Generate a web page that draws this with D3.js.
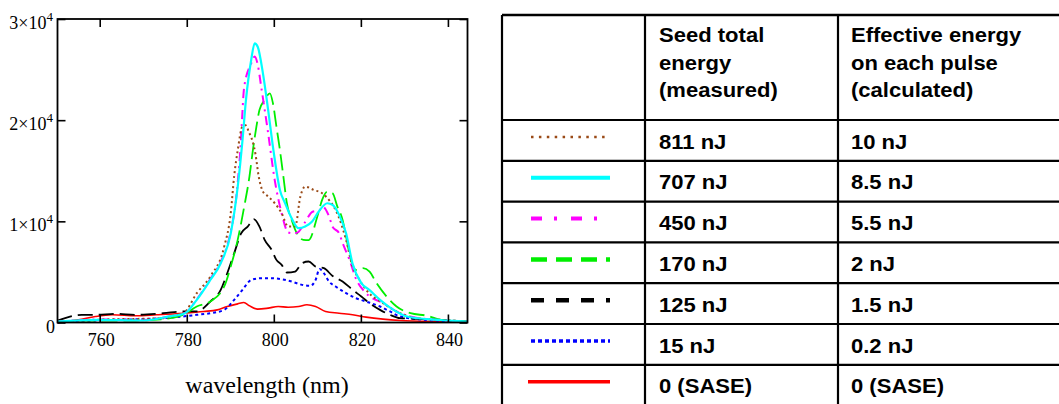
<!DOCTYPE html>
<html lang="en">
<head>
<meta charset="UTF-8">
<title>Seeded spectra</title>
<script src="https://d3js.org/d3.v7.min.js"></script>
<style>
    body { margin: 0; background: #fff; }
    .tick-label { font-family: "Liberation Serif", "Times New Roman", serif; fill: #000; }
    .cell { font-family: "Liberation Sans", Arial, sans-serif; font-weight: bold; font-size: 19.5px; fill: #000; }
</style>
</head>
<body>
<svg id="chart" width="1059" height="404"></svg>
<script>
// spectra: [wavelength nm, counts]
const s811 = [[750.3,0],[759,260],[774.6,430],[777.7,760],[779.2,900],[782.3,2900],[785.4,4540],[788.6,7500],[790.1,10800],[790.9,14500],[791.7,17000],[792.8,19400],[793.5,19500],[794.3,18800],[795.2,17800],[795.8,16600],[796.5,14500],[797.5,12940],[798.7,12450],[800.2,11800],[801.8,10800],[803.3,9480],[804.9,9480],[806.1,12450],[807.2,13430],[809.2,13100],[811.1,12780],[812.7,12100],[814.2,11130],[816.6,8170],[818.1,5530],[819.7,4210],[821.2,3230],[825.1,1910],[829,920],[832.9,430],[840.7,200],[844.5,100]];
const s707 = [[750.3,100],[759,260],[770,200],[776,600],[779.6,920],[782.3,2240],[785.4,4200],[787.8,5860],[790.1,8800],[791.7,13400],[792.8,18000],[793.6,22000],[794.8,25950],[795.6,27600],[796.3,27260],[797.5,24630],[798.7,21000],[799.9,17060],[801.4,13100],[802.6,11790],[804.1,10300],[805.7,9320],[807.2,9480],[808.8,9980],[810.3,10960],[812.3,11790],[813.5,11620],[815,10640],[816.6,8820],[818.1,5800],[820.1,3900],[822,3200],[824.4,2240],[827.5,1250],[830.6,590],[835.3,330],[839.9,200],[844.5,100]];
const s450 = [[750.3,80],[760,300],[770,250],[776,600],[779.6,950],[782.3,2300],[785.4,4300],[787.8,6000],[790.1,9000],[791.3,12100],[792.3,17000],[793.2,23300],[794.8,25600],[795.6,26300],[796.3,25500],[797.1,23300],[798.7,18700],[800.2,14100],[801.8,10800],[803.3,8900],[804.5,8800],[805.5,8900],[807,9800],[808.9,10950],[810.5,11100],[811.2,11450],[812.7,10470],[813.5,9470],[815,8820],[815.8,7860],[817.4,6180],[818.9,4300],[821.2,2900],[825.1,1910],[829,920],[836.8,260],[844.5,100]];
const s170 = [[750.3,100],[759,200],[768.3,200],[774.6,330],[779.2,760],[782.3,1580],[785.4,2070],[788.6,3560],[790.1,5530],[791.7,8170],[793.2,11460],[794.4,14420],[795.2,17060],[796,19360],[796.7,21000],[797.9,22000],[799.1,22650],[799.8,21670],[800.6,19360],[801.4,17060],[802.2,14420],[803,11790],[804.1,10140],[805.3,8820],[806.8,8170],[808,8150],[810,10470],[811.1,12120],[812.3,12940],[813.5,12780],[814.6,11460],[815.8,10140],[816.6,8490],[817.7,6190],[818.9,5200],[820.5,5370],[822,5040],[823.6,3890],[825.9,2570],[828.2,1580],[831.4,920],[835.3,660],[838.4,260],[844.5,100]];
const s125 = [[750.3,200],[755.9,760],[759,760],[763.7,860],[768.3,760],[774.6,920],[779.2,1090],[782.3,1090],[785.4,2070],[787.8,3230],[789.3,4870],[790.9,6850],[792.5,8820],[794,9480],[795.5,10200],[796.7,9480],[797.9,8170],[799.5,7180],[800.6,6190],[801.8,5700],[803,4940],[804.9,5040],[806.5,5860],[808,6030],[809.6,5530],[811.5,5370],[813.5,4600],[815.8,4050],[818.1,3230],[820.1,2570],[822,1910],[824.4,1250],[826.7,760],[829,430],[835.3,330],[844.5,100]];
const s15 = [[750.3,0],[759,200],[774.6,430],[779.2,600],[782.3,760],[785.4,920],[788.6,1250],[790.9,2240],[792.8,3230],[794.8,4210],[797.1,4380],[799.5,4380],[801.8,4280],[804.1,4050],[806.5,3720],[808.4,3620],[809.6,4210],[810.5,5300],[811.5,4870],[812.7,4050],[814.2,3560],[816.6,2900],[818.9,2400],[821.2,2070],[824.4,1580],[826.7,1090],[829,590],[836.8,200],[844.5,70]];
const s0 = [[750.3,0],[755.1,260],[759,590],[762.9,760],[768.3,660],[773,760],[779.2,920],[783.9,1090],[787,1250],[789.3,1580],[791.7,1840],[793.1,1980],[794.4,1650],[796.3,1320],[798.7,1420],[801,1580],[803.3,1510],[805.7,1580],[807.6,1750],[809.6,1580],[811.9,1090],[815,920],[818.1,760],[821.2,530],[825.1,330],[829,200],[836.8,100],[844.5,70]];

// table text
const seedTotal = ["811 nJ", "707 nJ", "450 nJ", "170 nJ", "125 nJ", "15 nJ", "0 (SASE)"];
const effective = ["10 nJ", "8.5 nJ", "5.5 nJ", "2 nJ", "1.5 nJ", "0.2 nJ", "0 (SASE)"];
const header2 = ["Seed total", "energy", "(measured)"];
const header3 = ["Effective energy", "on each pulse", "(calculated)"];

const xTicks = [760, 780, 800, 820, 840];
const yTicks = [0, 10000, 20000, 30000];

// one style per row (same order as the table)
const series = [s811, s707, s450, s170, s125, s15, s0];
const styles = [
    { color: "#9a4a17", dash: "2,3", w: 2, ldash: "2.5,5.4", lw: 2.5 },
    { color: "#00ffff", dash: null, w: 2.2, ldash: null, lw: 4 },
    { color: "#ff00ff", dash: "9,5,2,5", w: 2, ldash: "11,12,3,14", lw: 4 },
    { color: "#00ee00", dash: "16,6", w: 1.8, ldash: "16,9", lw: 4.5 },
    { color: "#000000", dash: "15,6", w: 1.8, ldash: "13,12", lw: 4.5 },
    { color: "#0000ff", dash: "3,3", w: 2, ldash: "4,3", lw: 3.5 },
    { color: "#ff0000", dash: null, w: 1.6, ldash: null, lw: 3.5 }
];
const drawOrder = [6, 5, 4, 3, 2, 0, 1];

const svg = d3.select("#chart");
svg.append("rect").attr("width", 1059).attr("height", 404).attr("fill", "#fff");

// ---- plot ----
const plot = { left: 57.5, right: 467.5, top: 19, bottom: 322.5 };
const x = d3.scaleLinear().domain([750.3, 844.5]).range([plot.left, plot.right]);
const y = d3.scaleLinear().domain([0, 30000]).range([plot.bottom, plot.top]);

const line = d3.line()
    .x(d => x(d[0]))
    .y(d => y(d[1]))
    .curve(d3.curveMonotoneX);

const curves = svg.append("g");
drawOrder.forEach(i => {
    curves.append("path")
        .datum(series[i])
        .attr("d", line)
        .attr("fill", "none")
        .attr("stroke", styles[i].color)
        .attr("stroke-width", styles[i].w)
        .attr("stroke-dasharray", styles[i].dash);
});

// inward ticks on all four sides
const tk = 8;
svg.append("g").attr("transform", `translate(0,${plot.bottom})`)
    .call(d3.axisBottom(x).tickValues(xTicks).tickSize(-tk).tickFormat(""));
svg.append("g").attr("transform", `translate(0,${plot.top})`)
    .call(d3.axisTop(x).tickValues(xTicks).tickSize(-tk).tickFormat(""));
svg.append("g").attr("transform", `translate(${plot.left},0)`)
    .call(d3.axisLeft(y).tickValues(yTicks).tickSize(-tk).tickFormat(""));
svg.append("g").attr("transform", `translate(${plot.right},0)`)
    .call(d3.axisRight(y).tickValues(yTicks).tickSize(-tk).tickFormat(""));
svg.selectAll(".domain").remove();
svg.selectAll(".tick line").attr("stroke", "#000").attr("stroke-width", 1.6);

svg.append("rect")
    .attr("x", plot.left).attr("y", plot.top)
    .attr("width", plot.right - plot.left).attr("height", plot.bottom - plot.top)
    .attr("fill", "none").attr("stroke", "#000").attr("stroke-width", 1.8);

// x tick labels
svg.append("g").selectAll("text")
    .data(xTicks)
    .join("text")
    .attr("class", "tick-label")
    .attr("x", d => x(d) + 1.5)
    .attr("y", 346)
    .attr("text-anchor", "middle")
    .attr("font-size", 18)
    .text(d => d);

// y tick labels (n×10^4)
yTicks.forEach(v => {
    const t = svg.append("text")
        .attr("class", "tick-label")
        .attr("x", v === 0 ? 55 : 53)
        .attr("y", y(v) + 10)
        .attr("text-anchor", "end")
        .attr("font-size", 18);
    if (v === 0) {
        t.text("0");
    } else {
        t.append("tspan").text((v / 10000) + "\u00d710");
        t.append("tspan").attr("dy", -8).attr("font-size", 13).text("4");
    }
});

svg.append("text")
    .attr("class", "tick-label")
    .attr("x", 267).attr("y", 393)
    .attr("text-anchor", "middle")
    .attr("font-size", 24)
    .text("wavelength (nm)");

// ---- table ----
const tbl = { left: 502, top: 15, headBottom: 120, rowH: 40.8, col2: 645, col3: 838, right: 1065 };
const rowY = d3.scaleLinear().domain([0, 1]).range([tbl.headBottom, tbl.headBottom + tbl.rowH]);
const nRows = seedTotal.length;
const grid = svg.append("g").attr("stroke", "#000").attr("stroke-width", 2.2);

grid.append("line").attr("x1", tbl.left).attr("x2", tbl.right).attr("y1", tbl.top).attr("y2", tbl.top).attr("stroke-width", 2.6);
d3.range(nRows + 1).forEach(i => {
    grid.append("line").attr("x1", tbl.left).attr("x2", tbl.right)
        .attr("y1", rowY(i)).attr("y2", rowY(i));
});
[tbl.left, tbl.col2, tbl.col3].forEach(cx => {
    grid.append("line").attr("x1", cx).attr("x2", cx)
        .attr("y1", tbl.top).attr("y2", rowY(nRows));
});

const sx = 1.13; // glyphs in the source look slightly stretched
function cellText(tx, ty, str) {
    svg.append("text").attr("class", "cell")
        .attr("transform", `translate(${tx},${ty}) scale(${sx},1)`)
        .text(str);
}

header2.forEach((s, i) => cellText(tbl.col2 + 14, 42 + i * 27.5, s));
header3.forEach((s, i) => cellText(tbl.col3 + 13, 42 + i * 27.5, s));

seedTotal.forEach((s, i) => {
    cellText(tbl.col2 + 14, rowY(i) + 28.5, s);
    cellText(tbl.col3 + 13, rowY(i) + 28.5, effective[i]);
    const st = styles[i];
    svg.append("line")
        .attr("x1", i === 6 ? 528 : 531).attr("x2", 610)
        .attr("y1", rowY(i) + 17).attr("y2", rowY(i) + 17)
        .attr("stroke", st.color)
        .attr("stroke-width", st.lw)
        .attr("stroke-dasharray", st.ldash);
});
</script>
</body>
</html>
